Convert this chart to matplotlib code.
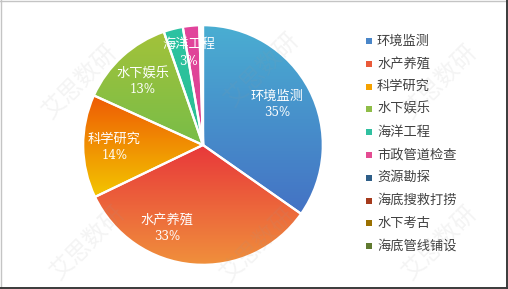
import matplotlib
matplotlib.use("Agg")
import matplotlib.pyplot as plt
import numpy as np
from matplotlib.colors import LinearSegmentedColormap
from matplotlib.patches import Rectangle
from matplotlib.lines import Line2D

plt.rcParams['font.family'] = ['Noto Sans CJK SC', 'DejaVu Sans']

categories = ['环境监测', '水产养殖', '科学研究', '水下娱乐', '海洋工程',
              '市政管道检查', '资源勘探', '海底搜救打捞', '水下考古', '海底管线铺设']
values = [34.7, 33.1, 13.9, 12.9, 2.6, 2.2, 0.2, 0.1, 0.1, 0.1]
labeled = [True, True, True, True, True, False, False, False, False, False]

# gradient (top, bottom) colours per slice, and legend colour
grad_top = ['#4aaed2', '#e8383a', '#ee5a05', '#a3c23a', '#2cc3a3', '#e2449c',
            '#2f5f8a', '#a5391a', '#9a7000', '#5f7a30']
grad_bot = ['#4472c4', '#f0903c', '#f3c600', '#78bd48', '#2cbf90', '#dc4490',
            '#2f5f8a', '#a5391a', '#9a7000', '#5f7a30']
legend_colors = ['#4a86c8', '#ea5a3a', '#f5a200', '#8fbd48', '#30c0a0', '#e44c92',
                 '#2e5e88', '#a53a1c', '#9a7000', '#607a30']
# label centres in pie units (radius = 1)
label_pos = [(0.62, 0.34), (-0.30, -0.69), (-0.74, -0.02), (-0.50, 0.53), (-0.12, 0.77)]

W, H = 508, 289
fig = plt.figure(figsize=(W / 100, H / 100), dpi=100)
fig.patch.set_facecolor('white')

cx, cy, r = 203, 145, 121
ax = fig.add_axes([(cx - r) / W, (H - cy - r) / H, 2 * r / W, 2 * r / H])
ax.axis('off')

wedges, _ = ax.pie(values, startangle=90, counterclock=False, radius=1,
                   wedgeprops=dict(edgecolor='white', linewidth=1.6, facecolor='none'),
                   frame=False)

for i, w in enumerate(wedges):
    w.set_zorder(3)
    cmap = LinearSegmentedColormap.from_list('g%d' % i, [grad_top[i], grad_bot[i]])
    t1, t2 = np.deg2rad(w.theta1), np.deg2rad(w.theta2)
    ts = np.linspace(t1, t2, 100)
    ys = np.concatenate([[0], np.sin(ts)])
    ytop, ybot = ys.max(), ys.min()
    grad = np.linspace(0, 1, 256).reshape(-1, 1)
    im = ax.imshow(grad, cmap=cmap, extent=[-1.05, 1.05, ybot, ytop],
                   origin='upper', aspect='auto', zorder=2)
    im.set_clip_path(w)

pct = [round(v / sum(values) * 100) for v in values]
k = 0
for i in range(len(values)):
    if labeled[i]:
        x, y = label_pos[k]
        ax.text(x, y + 0.065, categories[i], color='white', fontsize=9.5,
                ha='center', va='center', zorder=5)
        ax.text(x, y - 0.07, f'{pct[i]}%', color='white', fontsize=8.5,
                ha='center', va='center', zorder=5, family='DejaVu Serif')
        k += 1

ax.set_aspect('auto')
ax.set_xlim(-1.01, 1.01)
ax.set_ylim(-1.01, 1.01)

# legend
y0, dy = 41, 22.8
for i, (c, col) in enumerate(zip(categories, legend_colors)):
    yy = y0 + i * dy
    fig.patches.append(Rectangle(((365.5) / W, (H - yy - 3) / H), 6 / W, 6 / H,
                                 transform=fig.transFigure, facecolor=col,
                                 edgecolor='none'))
    fig.text(377 / W, (H - yy) / H, c, fontsize=9.5, color='#404040',
             ha='left', va='center')

# watermark
for (wx, wy) in [(80, 82), (262, 70), (440, 82), (88, 243), (258, 245), (440, 243)]:
    fig.text(wx / W, (H - wy) / H, '艾思数研', fontsize=17, color='#9a9a9a',
             alpha=0.11, rotation=45, ha='center', va='center', zorder=10)

# border: light top/left, dark right/bottom
def fline(x0, y0_, x1, y1, col, lw):
    fig.lines.append(Line2D([x0 / W, x1 / W], [1 - y0_ / H, 1 - y1 / H],
                            transform=fig.transFigure, color=col, linewidth=lw))

fline(0, 0.5, W, 0.5, '#c4c4c4', 1.0)
fline(0.5, 0, 0.5, H, '#c4c4c4', 1.0)
fline(W - 0.8, 0, W - 0.8, H, '#3a3a3a', 1.4)
fline(0, H - 0.8, W, H - 0.8, '#3a3a3a', 1.4)

fig.savefig('out.png', dpi=100)
